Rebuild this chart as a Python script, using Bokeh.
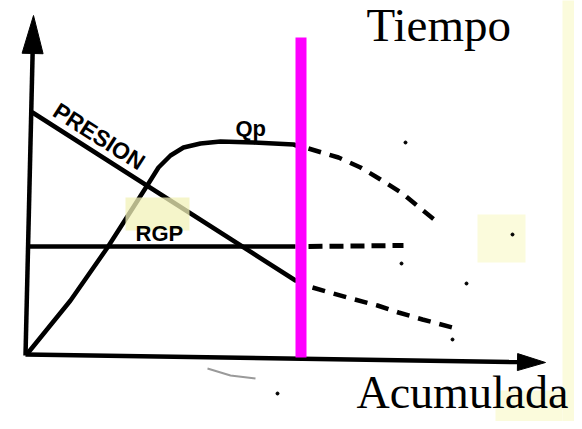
import numpy as np
from bokeh.plotting import figure
from bokeh.models import Range1d
from bokeh.core.properties import value
from bokeh.embed import file_html
from bokeh.resources import INLINE

# ---- schematic data (arbitrary units, origin at the axes corner) ----
presion_x = [7, 270]
presion_y = [243, 75]
presion_fut_x = [287, 322, 352, 373, 397, 427]
presion_fut_y = [68, 58, 50, 43, 36, 28]

qp_x = [2, 45, 82, 123, 133, 145, 158, 175, 195, 228, 268, 271]
qp_y = [2, 55, 108, 172, 188, 200, 208, 212, 214, 213, 211, 210]
qp_fut_x = [283, 313, 335, 355, 377, 395, 415]
qp_fut_y = [207, 198, 188, 176, 162, 147, 131]

rgp_x = [3, 270]
rgp_y = [109, 109]
rgp_fut_x = [283, 378]
rgp_fut_y = [109, 110]

limit_x = 275.5          # vertical (magenta) line
limit_y = [-2, 318]

yaxis_start = (0, 0)
yaxis_tip = (8, 340)
xaxis_start = (0, 1)
xaxis_tip = (520, -7)

speck_x = [380, 376, 441, 487, 427, 252]
speck_y = [213, 92, 72, 121, 16, -38]
smudge_x = [182, 205, 230]
smudge_y = [-13, -20, -23]

labels_title = "Tiempo"
labels_xaxis = "Acumulada"

p = figure(width=574, height=421, x_range=Range1d(-25, 549), y_range=Range1d(-66, 355),
           output_backend="svg", toolbar_location=None, min_border=0,
           x_axis_location=None, y_axis_location=None)
p.grid.visible = False
p.outline_line_color = None
p.background_fill_color = "white"
p.border_fill_color = "white"

YEL = "#FBFBDC"
# right-hand yellow strip and patch behind "ada"
p.quad(left=[537], right=[560], bottom=[-80], top=[360], fill_color=YEL, line_color=None)
p.quad(left=[470], right=[537], bottom=[-80], top=[-35], fill_color=YEL, line_color=None)
p.quad(left=[452], right=[500], bottom=[93], top=[141], fill_color=YEL, line_color=None)


def arrow(start, tip, L, w, lw):
    s = np.array(start, float)
    t = np.array(tip, float)
    d = (t - s) / np.linalg.norm(t - s)
    n = np.array([-d[1], d[0]])
    base = t - L * d
    p.line([s[0], base[0]], [s[1], base[1]], line_color="black", line_width=lw)
    tri = np.array([t, base + w * n, base - w * n])
    p.patch(tri[:, 0], tri[:, 1], fill_color="black", line_color="black", line_width=1)


arrow(yaxis_start, yaxis_tip, 38, 10.5, 4.5)
arrow(xaxis_start, xaxis_tip, 28, 8.5, 4.5)

LW = 4.5
p.line(presion_x, presion_y, line_color="black", line_width=LW, line_cap="round")
p.line(qp_x, qp_y, line_color="black", line_width=LW, line_cap="round", line_join="round")
p.line(rgp_x, rgp_y, line_color="black", line_width=LW)

p.line(presion_fut_x, presion_fut_y, line_color="black", line_width=LW, line_dash="13 9")
p.line(qp_fut_x, qp_fut_y, line_color="black", line_width=LW, line_dash="13 9")
p.line(rgp_fut_x, rgp_fut_y, line_color="black", line_width=LW + 0.5, line_dash="14 7")

p.scatter(speck_x, speck_y, size=3, color="black")
p.line(smudge_x, smudge_y, line_color="#9a9a9a", line_width=2)

# semi-transparent yellow patch over RGP crossing
p.quad(left=[100], right=[164], bottom=[125], top=[158], fill_color="#F2F2B8",
       fill_alpha=0.75, line_color=None)

# magenta limit line
p.line([limit_x, limit_x], limit_y, line_color="#FF00FF", line_width=11)

slope = (presion_y[1] - presion_y[0]) / (presion_x[1] - presion_x[0])
ang = float(np.arctan(slope))
lab_font = value("Liberation Sans")
p.text(x=[30], y=[247], text=["PRESION"], angle=ang, text_font=lab_font,
       text_font_size="23px", text_font_style="bold", text_color="black",
       text_align="left", text_baseline="alphabetic")
p.text(x=[210], y=[227], text=["Qp"], text_font=lab_font, text_font_size="22px",
       text_font_style="bold", text_color="black", text_baseline="alphabetic")
p.text(x=[110], y=[122], text=["RGP"], text_font=lab_font, text_font_size="22px",
       text_font_style="bold", text_color="black", text_baseline="alphabetic")

serif = value("Liberation Serif")
p.text(x=[341], y=[331], text=[labels_title], text_font=serif, text_font_size="47px",
       text_color="black", text_baseline="alphabetic")
p.text(x=[543], y=[-37], text=[labels_xaxis], text_font=serif, text_font_size="46px",
       text_color="black", text_align="right", text_baseline="alphabetic")

open("out.html", "w").write(file_html(p, INLINE))
